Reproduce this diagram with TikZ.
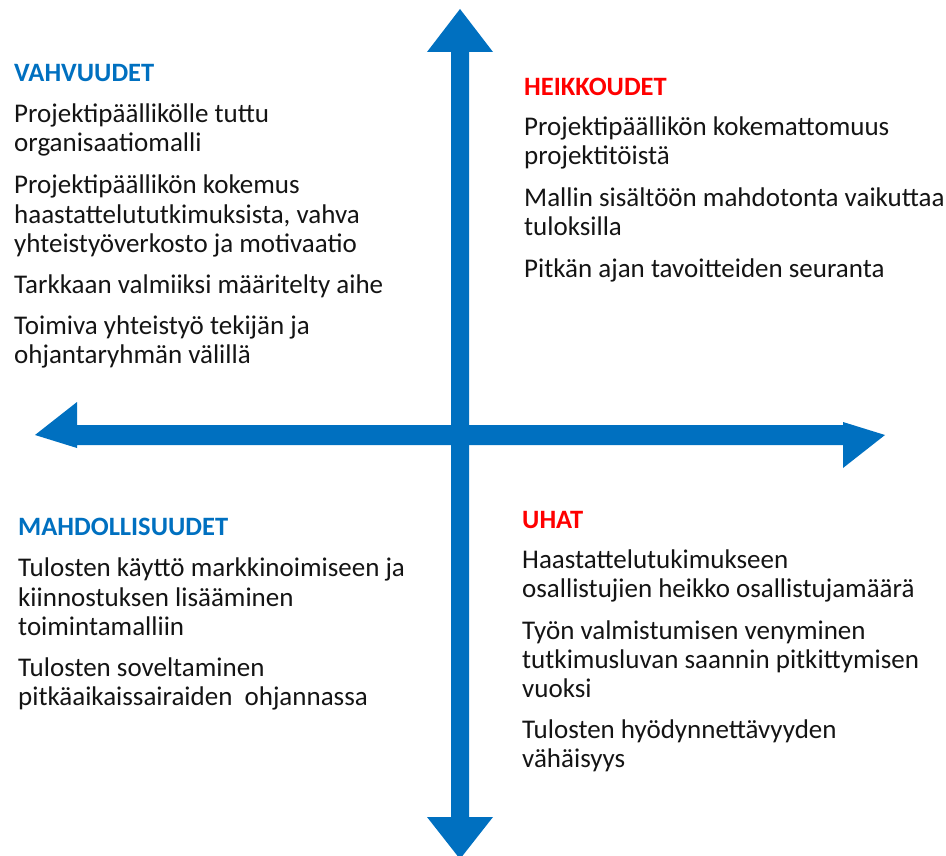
\documentclass[tikz,border=0pt]{standalone}
\usepackage{fontspec}
\setmainfont{Carlito}
\definecolor{axisblue}{HTML}{0070C0}
\definecolor{headblue}{HTML}{0070C0}
\definecolor{headred}{HTML}{FF0000}
\definecolor{bodytext}{HTML}{141414}
\tikzset{
  head/.style={anchor=base west, inner sep=0pt, font=\fontsize{26.5}{30}\selectfont\bfseries},
  txt/.style={anchor=base west, inner sep=0pt, text=bodytext, font=\fontsize{27}{30}\selectfont},
  axis/.style={fill=axisblue, draw=none}
}
\begin{document}
\begin{tikzpicture}[x=1pt,y=-1pt]
\useasboundingbox (0,0) rectangle (946,856);
\clip (0,0) rectangle (946,856);
% arrow end points
\coordinate (up) at (460,9);
\coordinate (down) at (460,859);
\coordinate (left) at (35,435);
\coordinate (right) at (885,435);
% vertical double arrow
\fill[axis] (up) -- ++(33,43) -- ++(-24,0) |- ([xshift=9pt]down |- 0,817) -- ++(24,0) -- (down) -- ++(-33,-42) -- ++(24,0) |- ([xshift=-9pt]up |- 0,52) -- ++(-24,0) -- cycle;
% horizontal double arrow
\fill[axis] (left) -- ++(42,-33) -- ++(0,23) -| ([yshift=-10pt]right -| 843,0) -- ++(0,-23) -- (right) -- ++(-42,33) -- ++(0,-23) -| ([yshift=10pt]left -| 77,0) -- ++(0,23) -- cycle;

% VAHVUUDET
\node[head, text=headblue] (tlh) at (14,82) {VAHVUUDET};
\node[txt] (tl1) at (14,123) {Projektipäällikölle tuttu};
\node[txt] (tl2) at (14,152) {organisaatiomalli};
\node[txt] (tl3) at (14,194) {Projektipäällikön kokemus};
\node[txt] (tl4) at (14,223) {haastattelututkimuksista, vahva};
\node[txt] (tl5) at (14,252) {yhteistyöverkosto ja motivaatio};
\node[txt] (tl6) at (14,293) {Tarkkaan valmiiksi määritelty aihe};
\node[txt] (tl7) at (14,334) {Toimiva yhteistyö tekijän ja};
\node[txt] (tl8) at (14,363) {ohjantaryhmän välillä};

% HEIKKOUDET
\node[head, text=headred] (trh) at (524,96) {HEIKKOUDET};
\node[txt] (tr1) at (524,136) {Projektipäällikön kokemattomuus};
\node[txt] (tr2) at (524,165) {projektitöistä};
\node[txt] (tr3) at (524,207) {Mallin sisältöön mahdotonta vaikuttaa};
\node[txt] (tr4) at (524,236) {tuloksilla};
\node[txt] (tr5) at (524,277) {Pitkän ajan tavoitteiden seuranta};

% MAHDOLLISUUDET
\node[head, text=headblue] (blh) at (18,535) {MAHDOLLISUUDET};
\node[txt] (bl1) at (18,576) {Tulosten käyttö markkinoimiseen ja};
\node[txt] (bl2) at (18,606) {kiinnostuksen lisääminen};
\node[txt] (bl3) at (18,635) {toimintamalliin};
\node[txt] (bl4) at (18,676) {Tulosten soveltaminen};
\node[txt] (bl5) at (18,705) {pitkäaikaissairaiden\ \ ohjannassa};

% UHAT
\node[head, text=headred] (brh) at (522,528) {UHAT};
\node[txt] (br1) at (522,568) {Haastattelutukimukseen};
\node[txt] (br2) at (522,597) {osallistujien heikko osallistujamäärä};
\node[txt] (br3) at (522,639) {Työn valmistumisen venyminen};
\node[txt] (br4) at (522,668) {tutkimusluvan saannin pitkittymisen};
\node[txt] (br5) at (522,697) {vuoksi};
\node[txt] (br6) at (522,738) {Tulosten hyödynnettävyyden};
\node[txt] (br7) at (522,767) {vähäisyys};
\end{tikzpicture}
\end{document}
